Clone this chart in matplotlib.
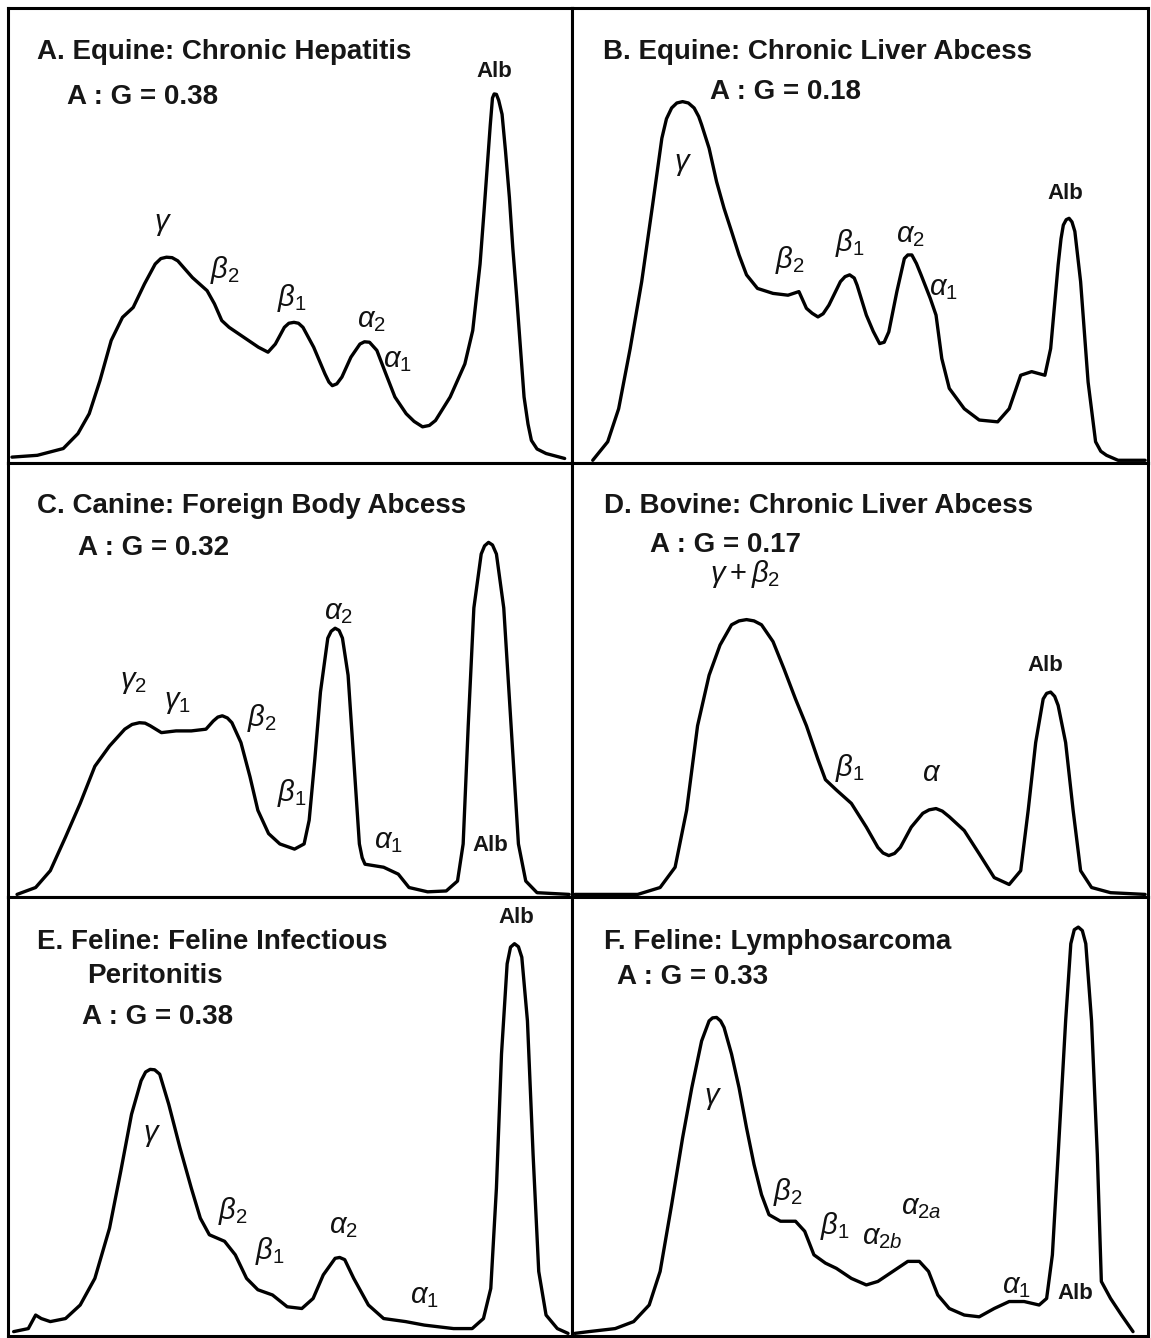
"""Serum protein electrophoresis traces, six panels."""

import matplotlib

matplotlib.use("Agg")
import matplotlib.pyplot as plt

plt.rcParams["font.family"] = ["Liberation Sans", "DejaVu Sans"]
plt.rcParams["mathtext.fontset"] = "custom"
plt.rcParams["mathtext.it"] = "Liberation Sans:italic"
plt.rcParams["mathtext.rm"] = "Liberation Sans"

# traces: x = migration (% of panel width), y = density (% of panel height)
a_x = [0.7, 5.2, 9.8, 12.4, 14.4, 16.3, 18.3, 20.3, 22.2, 24.2, 26.1, 27.1, 28.1, 29.1, 30.1,
       32.7, 35.3, 36.6, 37.9, 39.2, 41.8, 44.4, 46.1, 47.4, 49.0, 49.8, 50.7, 51.5, 52.3, 54.2,
       56.2, 56.9, 57.5, 58.3, 59.2, 60.8, 62.4, 63.2, 64.1, 65.4, 67.0, 68.6, 70.6, 72.0, 73.5,
       74.7, 75.8, 78.4, 81.0, 82.4, 83.7, 84.4, 85.0, 85.5, 85.9, 86.2, 86.6, 87.0, 87.6, 88.2,
       88.9, 89.5, 90.2, 91.5, 92.2, 92.8, 93.8, 95.4, 98.7]
a_y = [0.7, 1.1, 2.6, 5.9, 10.3, 17.6, 26.5, 31.6, 33.8, 39.0, 43.4, 44.6, 44.9, 44.8, 44.1,
       40.4, 37.5, 34.6, 30.9, 29.4, 27.2, 25.0, 23.9, 25.7, 29.4, 30.3, 30.5, 30.3, 29.4, 25.0,
       19.1, 17.3, 16.5, 16.9, 18.4, 22.8, 25.7, 26.2, 26.1, 24.3, 19.1, 14.0, 10.3, 8.6, 7.4,
       7.7, 8.8, 14.0, 21.3, 28.7, 43.4, 55.0, 65.4, 74.0, 80.1, 81.0, 80.9, 79.6, 76.5, 68.5,
       58.1, 47.0, 36.0, 14.0, 8.0, 4.4, 2.5, 1.5, 0.4]

b_x = [3.6, 6.2, 8.1, 10.1, 12.1, 14.0, 15.6, 16.4, 17.3, 18.2, 19.2, 20.2, 21.2, 22.0, 22.5,
       23.8, 25.1, 26.4, 27.7, 29.0, 30.3, 32.2, 34.9, 37.5, 39.4, 40.7, 41.7, 42.7, 43.6, 44.6,
       46.6, 47.4, 48.2, 49.0, 49.5, 51.1, 52.3, 53.4, 54.2, 55.0, 56.4, 57.7, 58.3, 59.0, 59.8,
       60.6, 62.2, 63.2, 64.2, 65.5, 68.1, 70.7, 73.9, 75.9, 77.9, 79.8, 82.1, 83.1, 84.4, 84.9,
       85.3, 85.8, 86.3, 86.8, 87.3, 88.3, 89.6, 90.9, 91.8, 92.8, 94.8, 99.5]
b_y = [0.0, 4.1, 11.4, 24.7, 39.5, 56.5, 71.2, 75.5, 77.9, 79.0, 79.3, 79.0, 77.9, 76.0, 74.2,
       69.0, 61.6, 55.7, 50.6, 45.4, 41.0, 38.0, 36.9, 36.5, 37.3, 33.6, 32.5, 31.7, 32.4, 34.3,
       39.5, 40.6, 41.0, 40.3, 38.7, 32.1, 28.5, 25.8, 26.1, 28.4, 37.3, 44.6, 45.4, 45.4, 43.5,
       41.0, 35.8, 32.1, 22.5, 15.9, 11.4, 8.9, 8.5, 11.4, 18.8, 19.6, 18.8, 24.7, 43.2, 49.0,
       52.0, 53.2, 53.5, 52.7, 50.6, 39.5, 17.3, 4.1, 2.0, 1.1, 0.0, 0.0]

c_x = [1.6, 4.9, 7.5, 10.2, 12.8, 15.4, 18.0, 20.7, 22.0, 23.3, 24.3, 25.2, 27.2, 29.8, 32.5,
       35.1, 36.4, 37.2, 38.0, 38.9, 39.7, 41.3, 42.9, 44.3, 46.2, 48.2, 50.8, 52.5, 53.4, 54.4,
       55.4, 56.7, 57.3, 58.0, 58.7, 59.3, 60.3, 61.3, 62.3, 62.8, 63.3, 66.6, 69.2, 71.1, 74.4,
       77.7, 79.7, 80.7, 81.6, 82.6, 83.9, 84.5, 85.2, 85.9, 86.6, 87.9, 89.2, 90.5, 91.8, 93.8,
       99.5]
c_y = [0.0, 1.6, 5.5, 13.3, 21.1, 29.7, 34.4, 38.3, 39.4, 39.8, 39.7, 39.1, 37.5, 37.9, 37.9,
       38.3, 40.2, 41.1, 41.4, 40.9, 39.8, 35.2, 27.3, 19.5, 14.1, 11.7, 10.5, 11.7, 17.2, 31.3,
       46.9, 59.4, 61.0, 61.7, 61.2, 59.4, 50.8, 31.3, 11.7, 8.5, 7.0, 6.3, 4.7, 1.6, 0.6,
       0.8, 3.1, 11.7, 39.1, 66.4, 78.9, 80.8, 81.6, 81.0, 78.9, 66.4, 39.1, 11.7, 3.1, 0.4,
       0.0]

d_x = [0.5, 11.4, 15.3, 17.9, 19.9, 21.8, 23.8, 25.7, 27.7, 29.0, 30.3, 31.6, 32.9, 34.9, 36.8,
       38.8, 40.7, 42.7, 44.0, 45.9, 48.5, 51.1, 53.1, 54.0, 55.0, 56.0, 57.0, 58.9, 60.9, 62.0,
       63.2, 64.3, 65.5, 68.1, 70.7, 73.3, 75.9, 77.9, 79.2, 80.5, 81.8, 82.4, 83.1, 83.8, 84.4,
       85.7, 87.0, 88.3, 90.2, 93.5, 99.5]
d_y = [0.0, 0.0, 1.6, 6.3, 19.5, 39.1, 50.8, 57.8, 62.5, 63.4, 63.7, 63.4, 62.5, 58.6, 52.3,
       45.3, 39.1, 31.3, 26.6, 24.2, 21.1, 15.6, 10.9, 9.6, 9.0, 9.5, 10.9, 15.6, 18.8, 19.6,
       19.9, 19.3, 18.0, 14.8, 9.4, 3.9, 2.3, 5.5, 19.5, 35.2, 45.3, 46.6, 46.9, 45.9, 43.8,
       35.2, 19.5, 5.5, 1.6, 0.4, 0.0]

e_x = [1.0, 3.6, 4.9, 5.9, 7.5, 10.2, 12.8, 15.4, 18.0, 20.0, 21.9, 23.6, 24.4, 25.2, 26.0,
       26.9, 28.5, 30.5, 32.5, 34.1, 35.7, 38.4, 40.3, 42.3, 44.3, 46.9, 49.5, 52.1, 54.1, 55.9,
       58.0, 58.8, 59.7, 61.3, 63.9, 66.6, 70.5, 73.8, 79.0, 82.3, 84.3, 85.6, 86.6, 87.5, 88.5,
       89.1, 89.8, 90.5, 91.1, 92.1, 93.1, 94.1, 95.4, 97.4, 99.3]
e_y = [0.4, 1.1, 4.2, 3.4, 2.7, 3.4, 6.5, 12.6, 24.1, 37.2, 50.2, 57.9, 59.9, 60.5, 60.4,
       59.4, 52.5, 42.5, 33.3, 26.4, 22.6, 21.1, 18.0, 12.6, 10.0, 8.8, 6.1, 5.7, 8.0, 13.4,
       17.2, 17.4, 16.9, 12.6, 6.5, 3.4, 2.7, 1.9, 1.1, 1.1, 3.4, 10.3, 33.3, 64.0, 84.7,
       88.5, 89.3, 88.6, 86.2, 71.6, 41.0, 14.2, 4.2, 1.1, 0.0]

f_x = [0.5, 2.9, 7.5, 10.7, 13.4, 15.3, 17.3, 19.2, 20.8, 22.5, 23.8, 24.4, 25.1, 25.8, 26.4,
       27.7, 29.0, 30.3, 31.6, 32.9, 34.2, 36.2, 38.8, 40.4, 42.0, 44.0, 45.9, 48.5, 51.1, 53.1,
       55.7, 58.3, 60.3, 61.9, 63.5, 65.5, 68.1, 70.7, 73.3, 75.9, 78.5, 81.1, 82.4, 83.4, 84.4,
       85.7, 86.6, 87.2, 87.9, 88.6, 89.2, 90.2, 91.2, 91.9, 93.5, 95.4, 97.4]
f_y = [0.0, 0.4, 1.1, 2.7, 6.5, 14.2, 29.5, 44.8, 56.3, 67.0, 71.6, 72.3, 72.4, 71.6, 70.1,
       64.0, 56.3, 47.1, 38.7, 31.8, 27.2, 25.7, 25.7, 23.4, 18.0, 16.1, 14.9, 12.6, 11.1, 11.9,
       14.2, 16.5, 16.5, 14.2, 8.8, 5.7, 4.2, 3.8, 5.7, 7.3, 7.3, 6.5, 8.0, 18.0, 41.0,
       71.6, 89.3, 92.5, 93.1, 92.3, 89.3, 71.6, 41.0, 11.9, 8.0, 4.2, 0.4]

titles = [
    ["A. Equine: Chronic Hepatitis", "A : G = 0.38"],
    ["B. Equine: Chronic Liver Abcess", "A : G = 0.18"],
    ["C. Canine: Foreign Body Abcess", "A : G = 0.32"],
    ["D. Bovine: Chronic Liver Abcess", "A : G = 0.17"],
    ["E. Feline: Feline Infectious", "Peritonitis", "A : G = 0.38"],
    ["F. Feline: Lymphosarcoma", "A : G = 0.33"],
]
peak_names = [
    [r"$\gamma$", r"$\beta_2$", r"$\beta_1$", r"$\alpha_2$", r"$\alpha_1$", "Alb"],
    [r"$\gamma$", r"$\beta_2$", r"$\beta_1$", r"$\alpha_2$", r"$\alpha_1$", "Alb"],
    [r"$\gamma_2$", r"$\gamma_1$", r"$\beta_2$", r"$\beta_1$", r"$\alpha_2$", r"$\alpha_1$", "Alb"],
    [r"$\gamma + \beta_2$", r"$\beta_1$", r"$\alpha$", "Alb"],
    [r"$\gamma$", r"$\beta_2$", r"$\beta_1$", r"$\alpha_2$", r"$\alpha_1$", "Alb"],
    [r"$\gamma$", r"$\beta_2$", r"$\beta_1$", r"$\alpha_{2b}$", r"$\alpha_{2a}$", r"$\alpha_1$", "Alb"],
]

# layout: panel boxes in source pixels (left, top, right, bottom)
W, H = 1151, 1338
boxes = [(8, 8, 572, 463), (572, 8, 1148, 463),
         (8, 463, 572, 897), (572, 463, 1148, 897),
         (8, 897, 572, 1336), (572, 897, 1148, 1336)]
title_pos = [
    [(5.1, 90.3), (10.5, 80.4)],
    [(5.4, 90.3), (24.0, 81.5)],
    [(5.1, 90.1), (12.4, 80.4)],
    [(5.6, 90.1), (13.5, 81.1)],
    [(5.1, 89.8), (14.0, 81.9), (13.1, 72.6)],
    [(5.6, 89.8), (7.8, 81.6)],
]
label_pos = [
    [(27.5, 52.3), (38.5, 42.0), (50.4, 35.8), (64.5, 31.0), (69.0, 22.2), (86.3, 85.9)],
    [(19.3, 65.5), (37.8, 44.2), (48.3, 48.0), (58.7, 49.7), (64.4, 38.0), (85.6, 58.9)],
    [(22.3, 49.3), (30.1, 44.7), (45.0, 40.8), (50.4, 23.5), (58.5, 65.4), (67.4, 12.4), (85.5, 11.3)],
    [(30.0, 74.2), (48.3, 29.3), (62.5, 28.1), (82.1, 53.0)],
    [(25.5, 45.4), (39.9, 28.1), (46.5, 18.8), (59.4, 24.5), (73.9, 8.6), (90.2, 95.2)],
    [(24.5, 54.0), (37.5, 32.4), (45.7, 24.5), (53.8, 22.2), (60.6, 29.0), (77.1, 10.9), (87.3, 9.1)],
]

traces = [(a_x, a_y), (b_x, b_y), (c_x, c_y), (d_x, d_y), (e_x, e_y), (f_x, f_y)]

fig = plt.figure(figsize=(W / 100, H / 100), dpi=100)
fig.patch.set_facecolor("white")

for i, (l, t, r, b) in enumerate(boxes):
    ax = fig.add_axes([l / W, 1 - b / H, (r - l) / W, (b - t) / H])
    xs, ys = traces[i]
    ax.plot(xs, ys, color="black", lw=2.4, solid_joinstyle="round", solid_capstyle="round")
    ax.set_xlim(0, 100)
    ax.set_ylim(-0.6, 100)
    ax.set_xticks([])
    ax.set_yticks([])
    for sp in ax.spines.values():
        sp.set_linewidth(2.2)
        sp.set_color("black")

    for text, (tx, ty) in zip(titles[i], title_pos[i]):
        ax.text(tx, ty, text, fontsize=20, fontweight="bold", ha="left", va="center",
                color="#161616")

    for name, (lx, ly) in zip(peak_names[i], label_pos[i]):
        if name == "Alb":
            ax.text(lx, ly, name, fontsize=16, fontweight="bold", ha="center", va="center",
                    color="#161616")
        else:
            ax.text(lx, ly, name, fontsize=21, ha="center", va="center", color="#111111")

fig.savefig("out.png", dpi=100)
plt.close(fig)
